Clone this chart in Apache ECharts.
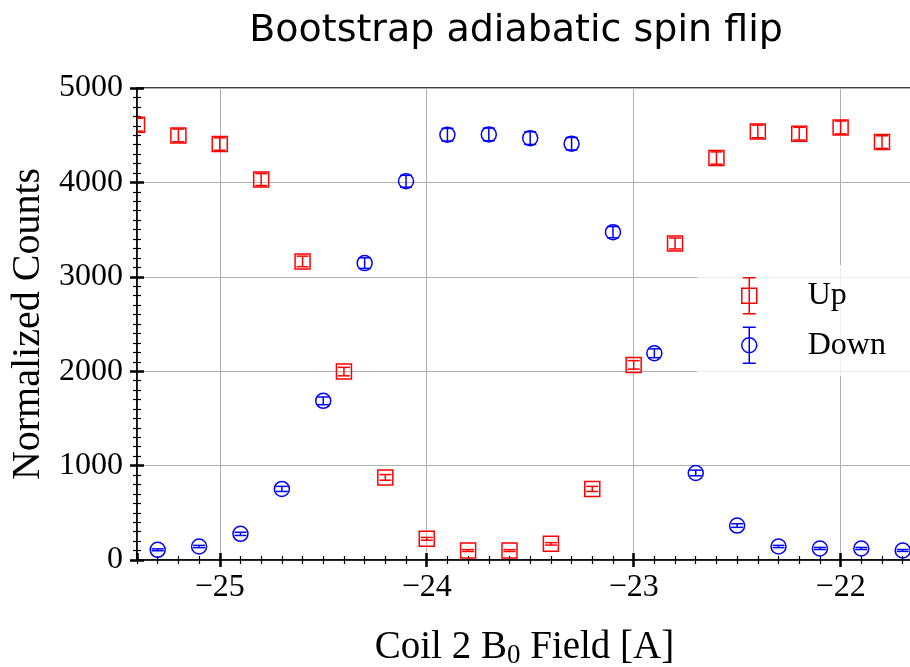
<!DOCTYPE html>
<html>
<head>
<meta charset="utf-8">
<script src="https://cdn.jsdelivr.net/npm/echarts@6/dist/echarts.min.js"></script>
<style>
  html, body { margin: 0; padding: 0; background: #fff; }
  #chart { width: 910px; height: 667px; }
</style>
</head>
<body>
<div id="chart"></div>
<script>
// coil current [A]
var upX = [-25.4, -25.2, -25.0, -24.8, -24.6, -24.4, -24.2, -24.0, -23.8, -23.6,
           -23.4, -23.2, -23.0, -22.8, -22.6, -22.4, -22.2, -22.0, -21.8];
var upY = [4611, 4498, 4406, 4030, 3163, 1996, 875, 224, 100, 100,
           171, 753, 2067, 3353, 4258, 4540, 4516, 4582, 4427];
var upErr = [68, 67, 66, 63, 56, 45, 30, 15, 10, 10,
             13, 27, 45, 58, 65, 67, 67, 68, 67];

var downX = [-25.3, -25.1, -24.9, -24.7, -24.5, -24.3, -24.1, -23.9, -23.7, -23.5,
             -23.3, -23.1, -22.9, -22.7, -22.5, -22.3, -22.1, -21.9, -21.7];
var downY = [108, 143, 277, 753, 1686, 3145, 4012, 4505, 4508, 4469,
             4410, 3473, 2190, 922, 365, 143, 122, 122, 101];
var downErr = [10, 12, 17, 27, 41, 56, 63, 67, 67, 67,
               66, 59, 47, 30, 19, 12, 11, 11, 10];

var xMin = -25.4, xMax = -21.655;
var serif = "'Liberation Serif', 'DejaVu Serif', serif";

function zipErr(xs, ys, es) {
    var out = [];
    for (var i = 0; i < xs.length; i++) out.push([xs[i], ys[i], es[i]]);
    return out;
}

// マーカー + エラーバーを描く
function errRender(shape, color) {
    return function (params, api) {
        var x = api.value(0), y = api.value(1), e = api.value(2);
        var c = api.coord([x, y]);
        var top = api.coord([x, y + e])[1];
        var bot = api.coord([x, y - e])[1];
        var cap = 6, half = 7.5;
        var st = { stroke: color, fill: 'none', lineWidth: 1.5 };
        var marker = shape === 'rect'
            ? { type: 'rect', shape: { x: c[0] - half, y: c[1] - half, width: half * 2, height: half * 2 }, style: st }
            : { type: 'circle', shape: { cx: c[0], cy: c[1], r: half }, style: st };
        return {
            type: 'group',
            children: [
                { type: 'line', shape: { x1: c[0], y1: top, x2: c[0], y2: bot }, style: st },
                { type: 'line', shape: { x1: c[0] - cap, y1: top, x2: c[0] + cap, y2: top }, style: st },
                { type: 'line', shape: { x1: c[0] - cap, y1: bot, x2: c[0] + cap, y2: bot }, style: st },
                marker
            ]
        };
    };
}

var upIcon = 'path://M1,0L14,0M7.5,0L7.5,36M1,36L14,36M0,10.5L15,10.5L15,25.5L0,25.5Z';
var downIcon = 'path://M1,0L14,0M7.5,0L7.5,36M1,36L14,36M0,18A7.5,7.5 0 1 0 15,18A7.5,7.5 0 1 0 0,18Z';

function minusFmt(v) {
    return (v < 0 ? '\u2212' : '') + Math.abs(v);
}

// 目盛り線だけの補助軸
function tickAxis(kind, opts, len, width, inside) {
    var a = {
        type: 'value', min: opts.min, max: opts.max, position: kind === 'x' ? 'bottom' : 'left',
        axisLine: { show: false, onZero: false },
        axisTick: { show: true, inside: inside, length: len, lineStyle: { color: '#000', width: width } },
        axisLabel: { show: false }, splitLine: { show: false }
    };
    if (opts.interval) a.interval = opts.interval;
    if (opts.splitNumber) a.splitNumber = opts.splitNumber;
    return a;
}

var xMinor = { min: xMin, max: xMax, interval: 0.1 };
var xMajor = { min: xMin, max: xMax, splitNumber: 4 };
var yMinor = { min: 0, max: 5000, interval: 100 };
var yMajor = { min: 0, max: 5000, interval: 1000 };

var chart = echarts.init(document.getElementById('chart'));
chart.setOption({
    animation: false,
    title: {
        text: 'Bootstrap adiabatic spin flip',
        left: 511,
        textAlign: 'center',
        top: 7,
        textStyle: { fontFamily: "'DejaVu Sans'", fontWeight: 'normal', fontSize: 38, color: '#000' }
    },
    grid: {
        left: 137, top: 88, right: -2, bottom: 107,
        outerBoundsMode: 'none',
        show: true, borderColor: '#000', borderWidth: 1.5, backgroundColor: 'transparent'
    },
    legend: {
        orient: 'vertical',
        left: 697, top: 265,
        padding: [12, 40, 12, 44],
        itemWidth: 15, itemHeight: 36, itemGap: 12,
        backgroundColor: 'rgba(255,255,255,0.8)',
        selectedMode: false,
        textStyle: { fontFamily: serif, fontSize: 32, color: '#000', padding: [0, 0, 0, 46] },
        data: [
            { name: 'Up', icon: upIcon, itemStyle: { color: 'transparent', borderColor: '#ff0000', borderWidth: 1.5 } },
            { name: 'Down', icon: downIcon, itemStyle: { color: 'transparent', borderColor: '#0000ff', borderWidth: 1.5 } }
        ]
    },
    xAxis: [
        {
            type: 'value', min: xMin, max: xMax, splitNumber: 4, position: 'bottom',
            name: 'Coil 2 B{sub|0} Field [A]',
            nameLocation: 'middle', nameGap: 66,
            nameTextStyle: {
                fontFamily: serif, fontSize: 39, color: '#000',
                rich: { sub: { fontFamily: serif, fontSize: 27, verticalAlign: 'bottom', padding: [16, 0, 0, 0] } }
            },
            axisLine: { onZero: false, lineStyle: { color: '#000', width: 1.5 } },
            axisTick: { show: true, length: 7, lineStyle: { color: '#000', width: 2.5 } },
            axisLabel: {
                showMinLabel: false, showMaxLabel: false, margin: 12,
                fontFamily: serif, fontSize: 32, color: '#000', formatter: minusFmt
            },
            splitLine: { show: true, lineStyle: { color: '#b0b0b0', width: 1 } }
        },
        tickAxis('x', xMinor, 4, 1.2, false),
        tickAxis('x', xMinor, 4, 1.2, true),
        tickAxis('x', xMajor, 7, 2.5, true)
    ],
    yAxis: [
        {
            type: 'value', min: 0, max: 5000, interval: 1000, position: 'left',
            name: 'Normalized Counts',
            nameLocation: 'middle', nameGap: 86,
            nameTextStyle: { fontFamily: serif, fontSize: 40, color: '#000' },
            axisLine: { onZero: false, lineStyle: { color: '#000', width: 1.5 } },
            axisTick: { show: true, length: 7, lineStyle: { color: '#000', width: 2.5 } },
            axisLabel: {
                margin: 14, fontFamily: serif, fontSize: 32, color: '#000',
                formatter: function (v) { return String(v); }
            },
            splitLine: { show: true, lineStyle: { color: '#b0b0b0', width: 1 } }
        },
        tickAxis('y', yMinor, 4, 1.2, false),
        tickAxis('y', yMinor, 4, 1.2, true),
        tickAxis('y', yMajor, 7, 2.5, true)
    ],
    series: [
        {
            name: 'Up', type: 'custom', xAxisIndex: 0, yAxisIndex: 0, clip: true,
            itemStyle: { color: '#ff0000' },
            renderItem: errRender('rect', '#ff0000'),
            encode: { x: 0, y: 1 },
            data: zipErr(upX, upY, upErr), z: 3
        },
        {
            name: 'Down', type: 'custom', xAxisIndex: 0, yAxisIndex: 0, clip: true,
            itemStyle: { color: '#0000ff' },
            renderItem: errRender('circle', '#0000ff'),
            encode: { x: 0, y: 1 },
            data: zipErr(downX, downY, downErr), z: 3
        }
    ]
});
</script>
</body>
</html>
